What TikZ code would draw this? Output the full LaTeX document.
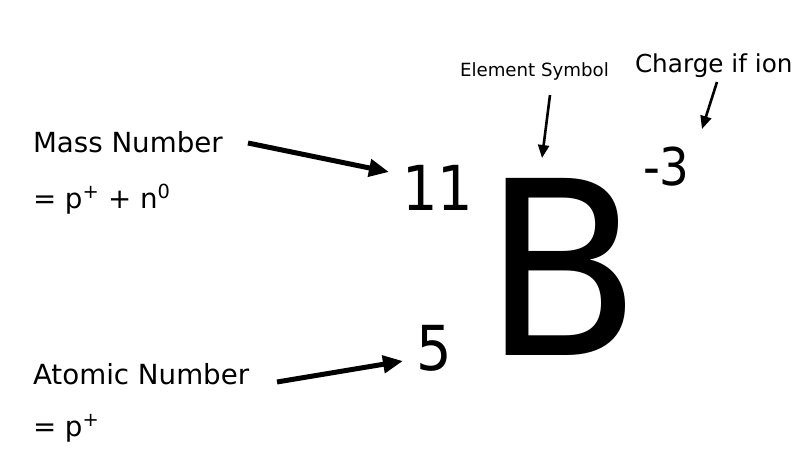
\documentclass[tikz,border=0pt]{standalone}
\usepackage{fontspec}
\setmainfont{DejaVu Sans}
\newfontfamily\condfont{DejaVu Sans Condensed}
\usetikzlibrary{arrows.meta}
\newcommand{\fs}[1]{\fontsize{#1}{#1}\selectfont}
\begin{document}
\begin{tikzpicture}[x=1pt,y=-1pt,
  lbl/.style={anchor=base west,inner sep=0pt,outer sep=0pt},
  bigarrow/.style={line width=5pt,-{Triangle[length=20pt,width=17pt]}},
  smallarrow/.style={line width=2.6pt,-{Triangle[length=13pt,width=11pt]}}]
\useasboundingbox (0,0) rectangle (809,471);
\node[lbl] (mass) at (33,152) {\fs{27.7}Mass Number};
\node[lbl] (masseq) at (33,208) {\fs{27.7}= p\textsuperscript{+} + n\textsuperscript{0}};
\node[lbl] (eleven) at (402,210) {\condfont\fs{62}11};
\node[lbl,xscale=0.95] (B) at (483,355) {\fs{243}B};
\node[lbl] (five) at (416,370) {\condfont\fs{62}5};
\node[lbl] (atomic) at (33,384) {\fs{27.7}Atomic Number};
\node[lbl] (atomiceq) at (33,436) {\fs{27.7}= p\textsuperscript{+}};
\node[lbl] (element) at (460,76) {\fs{18.2}Element Symbol};
\node[lbl] (charge) at (635,72) {\fs{24.7}Charge if ion};
\node[lbl] (charge3) at (643,185) {\condfont\fs{52}-3};
\coordinate (a1s) at (248,143);
\coordinate (a1e) at (389,172);
\coordinate (a2s) at (277,382);
\coordinate (a2e) at (403,361);
\coordinate (a3s) at (550,95);
\coordinate (a3e) at (542,158);
\coordinate (a4s) at (717,82);
\coordinate (a4e) at (702,129);
\draw[bigarrow] (a1s) -- (a1e);
\draw[bigarrow] (a2s) -- (a2e);
\draw[smallarrow] (a3s) -- (a3e);
\draw[smallarrow] (a4s) -- (a4e);
\end{tikzpicture}
\end{document}
